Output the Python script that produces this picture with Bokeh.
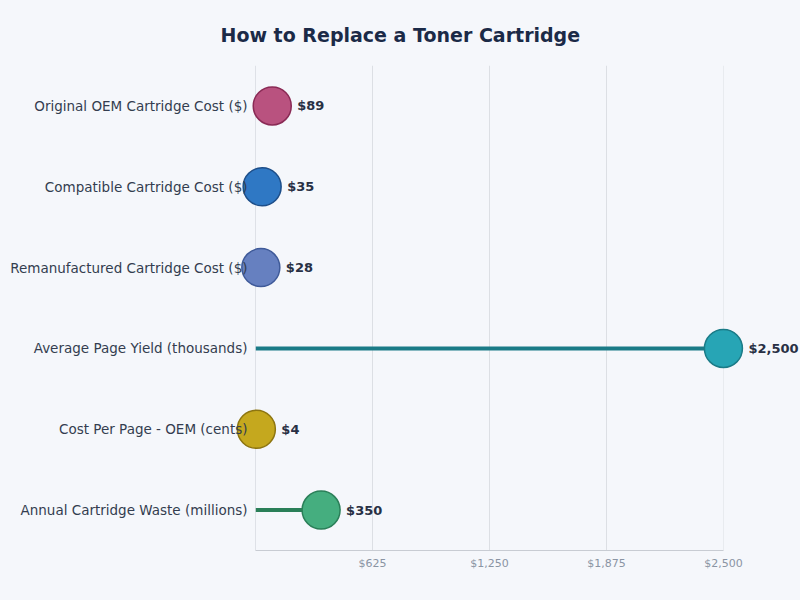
from bokeh.plotting import figure
from bokeh.models import ColumnDataSource, Range1d, FactorRange, FixedTicker, NumeralTickFormatter, Grid
from bokeh.core.properties import value
from bokeh.embed import file_html
from bokeh.resources import INLINE

categories = [
    "Original OEM Cartridge Cost ($)",
    "Compatible Cartridge Cost ($)",
    "Remanufactured Cartridge Cost ($)",
    "Average Page Yield (thousands)",
    "Cost Per Page - OEM (cents)",
    "Annual Cartridge Waste (millions)",
]
values = [89, 35, 28, 2500, 4, 350]
value_labels = ["$89", "$35", "$28", "$2,500", "$4", "$350"]
fill_colors = ["#b9527f", "#2f78c4", "#6680c0", "#27a5b5", "#c5a81e", "#45ae7f"]
line_colors = ["#8a2a55", "#1d4e89", "#3f5a99", "#1a7b87", "#8d7510", "#2a7f58"]
x_ticks = [625, 1250, 1875, 2500]
zero_tick = [0]

BG = "#f5f7fb"
FONT = "DejaVu Sans"

src = ColumnDataSource(dict(cat=categories, val=values, lab=value_labels,
                            zero=[0] * len(values), fill=fill_colors, line=line_colors))

p = figure(width=800, height=600, output_backend="svg", toolbar_location=None,
           x_range=Range1d(-0.5, 2500.5), y_range=FactorRange(factors=categories[::-1], range_padding=0),
           min_border_left=255, min_border_right=77, min_border_top=65, min_border_bottom=50)
p.background_fill_color = BG
p.border_fill_color = BG
p.outline_line_color = None

p.title.text = "How to Replace a Toner Cartridge"
p.title.align = "left"
p.title.offset = -35
p.title.text_font = FONT
p.title.text_font_size = "19px"
p.title.text_font_style = "bold"
p.title.text_color = "#1b2a47"
p.title.standoff = 39

p.segment(x0="zero", y0="cat", x1="val", y1="cat", source=src, line_color="line", line_width=4)
r = p.scatter(x="val", y="cat", source=src, size=38, fill_color="fill", line_color="line",
              line_width=1.5, fill_alpha=1.0)
r.level = "annotation"

t = p.text(x="val", y="cat", text="lab", source=src, x_offset=25,
           text_font=value(FONT), text_font_size="13px", text_font_style="bold",
           text_color="#283044", text_baseline="middle", text_align="left")
t.level = "annotation"

p.xaxis.ticker = FixedTicker(ticks=x_ticks)
p.xaxis.formatter = NumeralTickFormatter(format="$0,0")
p.xaxis.axis_line_color = "#c8ccd3"
p.xaxis.major_tick_line_color = None
p.xaxis.minor_tick_line_color = None
p.xaxis.major_tick_out = 0
p.xaxis.minor_tick_out = 0
p.xaxis.major_label_text_color = "#8a94a3"
p.xaxis.major_label_text_font = FONT
p.xaxis.major_label_text_font_size = "11px"
p.xaxis.major_label_standoff = 6

p.yaxis.axis_line_color = None
p.yaxis.major_tick_line_color = None
p.yaxis.minor_tick_line_color = None
p.yaxis.major_tick_out = 0
p.yaxis.minor_tick_out = 0
p.yaxis.major_label_text_color = "#333d4f"
p.yaxis.major_label_text_font = FONT
p.yaxis.major_label_text_font_size = "13.5px"
p.yaxis.major_label_standoff = 8
p.yaxis.level = "overlay"

p.xgrid.ticker = FixedTicker(ticks=x_ticks)
p.xgrid.grid_line_color = "#dcdfe4"
p.ygrid.grid_line_color = None
zero_grid = Grid(dimension=0, ticker=FixedTicker(ticks=zero_tick), grid_line_color="#c8ccd3")
p.add_layout(zero_grid)

html = file_html(p, INLINE)
html = html.replace("</head>", "<style>html,body{margin:0;padding:0;background:%s;overflow:hidden}</style></head>" % BG, 1)
open("out.html", "w").write(html)
